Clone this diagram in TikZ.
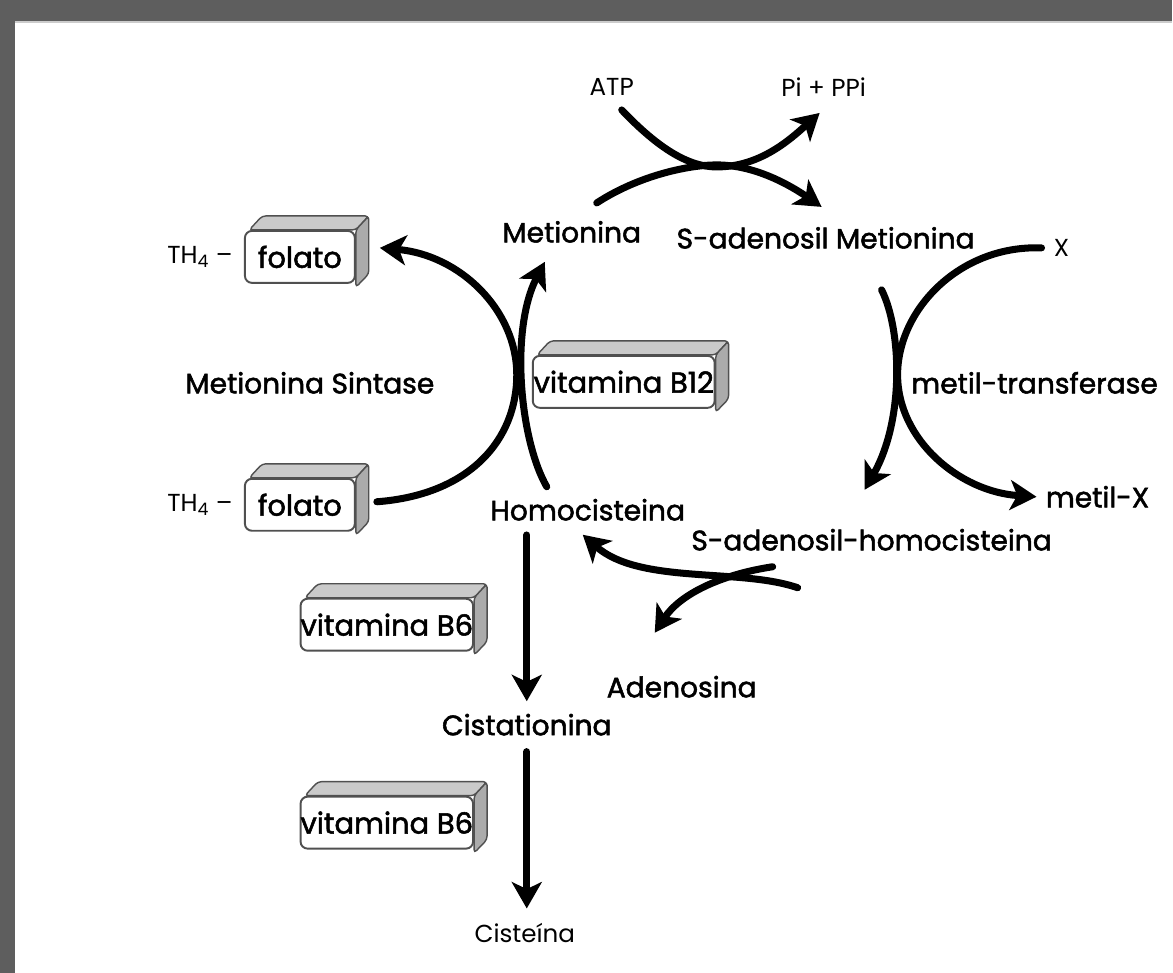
\documentclass[tikz,border=0pt]{standalone}
\usepackage{fontspec}
\setmainfont{Poppins}
\newfontfamily\heavyfont{Poppins}[FakeBold=1.8]
\usetikzlibrary{positioning, arrows.meta}

\definecolor{framegray}{HTML}{5E5E5E}
\definecolor{boxtop}{HTML}{CACACA}
\definecolor{boxside}{HTML}{ABABAB}
\definecolor{boxline}{HTML}{505050}

% top and right faces of a vitamin box
\newcommand\vitdepth[1]{%
  \filldraw[fill=boxtop, draw=boxline, line width=0.8pt, rounded corners=2pt]
    ([xshift=3pt]#1.north west) -- ++(13,-14) -- ([shift={(13,-14)}]#1.north east)
    -- (#1.north east) -- cycle;
  \filldraw[fill=boxside, draw=boxline, line width=0.8pt, rounded corners=2pt]
    (#1.north east) -- ++(13,-14) -- ([shift={(13,-10)}]#1.south east)
    -- ([yshift=-2pt]#1.south east) -- cycle;
}

\begin{document}
\begin{tikzpicture}[x=0.02cm, y=-0.02cm,
     node distance = 3mm and 3mm,
        txt/.style = {font=\heavyfont\fontsize{16}{18}\selectfont, inner sep=2pt},
      small/.style = {font=\fontsize{14}{16}\selectfont, inner sep=2pt},
     vitbox/.style = {rectangle, draw=boxline, line width=1.1pt, rounded corners=4pt,
                      fill=white, minimum height=1.04cm, inner sep=0pt,
                      font=\heavyfont\fontsize{16.5}{18}\selectfont},
       flow/.style = {line width=4pt, line cap=round,
                      -{Stealth[length=15pt, width=17pt, inset=4pt]}}
                    ]
% frame
\fill[framegray] (0,0) rectangle (1173,973);
\fill[white] (15,22) rectangle (1173,973);
\draw[gray!40, line width=0.6pt] (15,22) -- (1173,22);

% compounds
\node (met)  [txt]   at (572,232) {Metionina};
\node (sam)  [txt]   at (826,238) {S-adenosil Metionina};
\node (atp)  [small] at (612,87)  {ATP};
\node (pi)   [small] at (824,87)  {Pi + PPi};
\node (x)    [small] at (1062,248) {X};
\node (mtf)  [txt]   at (1035,383) {metil-transferase};
\node (metx) [txt]   at (1098,497) {metil-X};
\node (sah)  [txt]   at (872,540) {S-adenosil-homocisteina};
\node (hcy)  [txt]   at (588,510) {Homocisteina};
\node (ado)  [txt]   at (682,687) {Adenosina};
\node (cth)  [txt]   at (527,725) {Cistationina};
\node (cys)  [small] at (525,933) {Cisteína};
\node (ms)   [txt]   at (310,383) {Metionina Sintase};

% vitamin boxes
\node (fol1) [vitbox, minimum width=2.2cm]  at (300,257) {folato};
\node (fol2) [vitbox, minimum width=2.2cm]  at (300,505) {folato};
\node (b12)  [vitbox, minimum width=3.64cm] at (624,382) {vitamina B12};
\node (b6a)  [vitbox, minimum width=3.3cm]  at (387,625) {vitamina B6};
\node (b6b)  [vitbox, minimum width=3.3cm]  at (387,823) {vitamina B6};
\vitdepth{fol1}
\vitdepth{fol2}
\vitdepth{b12}
\vitdepth{b6a}
\vitdepth{b6b}
\node (th1)  [small, left=1.5mm of fol1] {TH\textsubscript{4} –};
\node (th2)  [small, left=1.5mm of fol2] {TH\textsubscript{4} –};

% free ends of the reaction arcs
\coordinate (atp-in)  at (622,110);
\coordinate (pi-out)  at (820,113);
\coordinate (met-in)  at (597,203);
\coordinate (sam-out) at (822,207);
\coordinate (x-in)    at (1042,248);
\coordinate (mx-out)  at (1037,497);
\coordinate (sam-in)  at (882,290);
\coordinate (sah-out) at (865,490);
\coordinate (fol-in)  at (377,502);
\coordinate (fol-out) at (380,248);
\coordinate (hcy-in)  at (547,487);
\coordinate (met-out) at (545,262);
\coordinate (sah-in)  at (798,588);
\coordinate (hcy-out) at (583,535);
\coordinate (ado-in)  at (773,567);
\coordinate (ado-out) at (655,633);

% methionine -> SAM
\draw[flow] (atp-in) .. controls (660,150) and (690,167) .. (717,167)
            .. controls (760,167) and (790,140) .. (pi-out);
\draw[flow] (met-in) .. controls (640,175) and (690,165) .. (717,165)
            .. controls (755,165) and (790,185) .. (sam-out);
% methyl transfer
\draw[flow] (x-in) .. controls (960,245) and (898,310) .. (898,375)
            .. controls (898,440) and (960,492) .. (mx-out);
\draw[flow] (sam-in) .. controls (902,330) and (905,420) .. (sah-out);
% SAH -> homocysteine
\draw[flow] (sah-in) .. controls (740,568) and (640,585) .. (hcy-out);
\draw[flow] (ado-in) .. controls (720,575) and (680,595) .. (ado-out);
% methionine synthase
\draw[flow] (fol-in) .. controls (470,495) and (517,440) .. (517,375)
            .. controls (517,310) and (460,255) .. (fol-out);
\draw[flow] (hcy-in) .. controls (520,440) and (510,330) .. (met-out);
% transsulfuration
\draw[flow, shorten <=6pt, shorten >=5pt] (hcy.south -| cth.north) -- (cth.north);
\draw[flow, shorten <=7pt, shorten >=6pt] (cth.south) -- (cys.north -| cth.south);
\end{tikzpicture}
\end{document}
